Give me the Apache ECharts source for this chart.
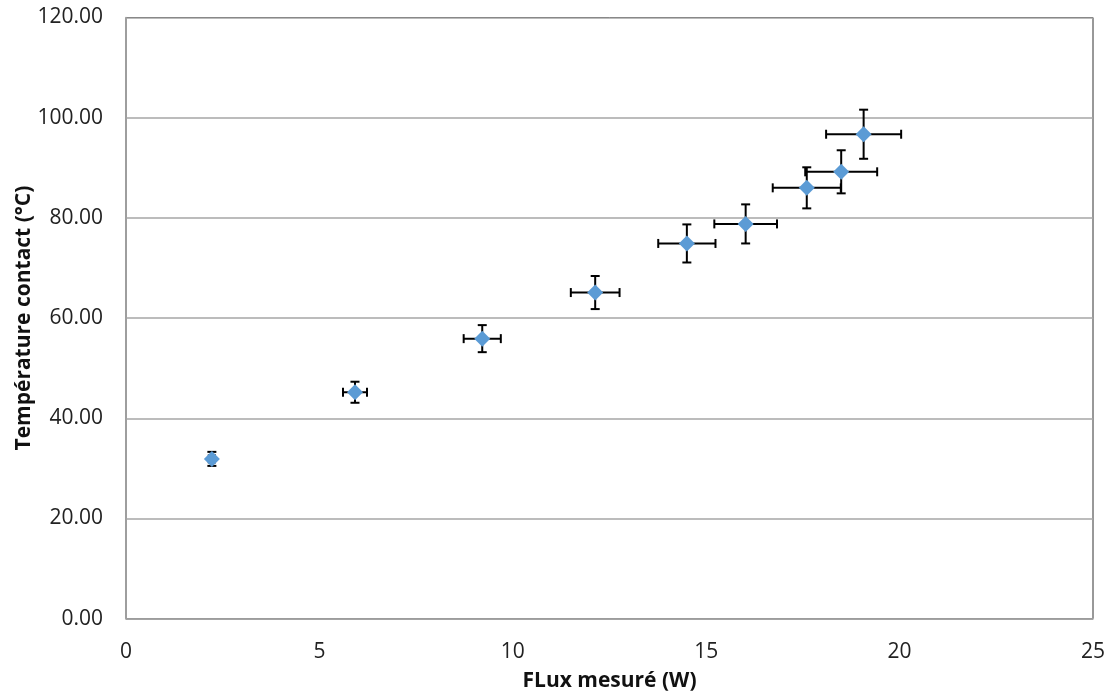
<!DOCTYPE html>
<html>
<head>
<meta charset="utf-8">
<script src="https://cdn.jsdelivr.net/npm/echarts@6/dist/echarts.min.js"></script>
<style>
html, body { margin: 0; padding: 0; background: #fff; }
#chart { width: 1110px; height: 697px; }
</style>
</head>
<body>
<div id="chart"></div>
<script>
// données mesurées
const fluxW = [2.22, 5.92, 9.21, 12.13, 14.50, 16.02, 17.60, 18.49, 19.07];
const tempC = [31.9, 45.2, 55.9, 65.1, 74.9, 78.8, 86.0, 89.2, 96.7];
const fluxErr = [0.08, 0.31, 0.48, 0.63, 0.74, 0.81, 0.88, 0.93, 0.97];
const tempErr = [1.4, 2.1, 2.7, 3.3, 3.8, 3.9, 4.1, 4.3, 4.9];

const myChart = echarts.init(document.getElementById('chart'));

const points = fluxW.map((x, i) => [x, tempC[i]]);
const errData = fluxW.map((x, i) => [x, tempC[i], fluxErr[i], tempErr[i]]);

// barres d'erreur X et Y
const renderErr = (params, api) => {
	const x = api.value(0);
	const y = api.value(1);
	const dx = api.value(2);
	const dy = api.value(3);
	const left = api.coord([x - dx, y]);
	const right = api.coord([x + dx, y]);
	const top = api.coord([x, y + dy]);
	const bottom = api.coord([x, y - dy]);
	const cap = 4.5;
	const style = { stroke: '#000', lineWidth: 2 };
	const line = (x1, y1, x2, y2) => ({ type: 'line', shape: { x1, y1, x2, y2 }, style });
	return {
		type: 'group',
		children: [
			line(left[0], left[1], right[0], right[1]),
			line(left[0], left[1] - cap, left[0], left[1] + cap),
			line(right[0], right[1] - cap, right[0], right[1] + cap),
			line(top[0], top[1], bottom[0], bottom[1]),
			line(top[0] - cap, top[1], top[0] + cap, top[1]),
			line(bottom[0] - cap, bottom[1], bottom[0] + cap, bottom[1]),
		],
	};
};

const option = {
	animation: false,
	grid: {
		left: 126,
		right: 17,
		top: 17.5,
		bottom: 78.3,
		outerBoundsMode: 'none',
		show: true,
		borderColor: '#333',
		borderWidth: 1,
	},
	xAxis: {
		type: 'value',
		min: 0,
		max: 25,
		interval: 5,
		name: 'FLux mesuré (W)',
		nameLocation: 'middle',
		nameGap: 52,
		nameMoveOverlap: false,
		nameTextStyle: { fontFamily: 'Open Sans', fontWeight: 'bold', fontSize: 21, color: '#111' },
		axisLine: { lineStyle: { color: '#a0a0a0', width: 1.5 } },
		axisTick: { show: false },
		splitLine: { show: false },
		axisLabel: { fontFamily: 'Open Sans', fontSize: 21, color: '#222', margin: 23 },
	},
	yAxis: {
		type: 'value',
		min: 0,
		max: 120,
		interval: 20,
		name: 'Température contact (°C)',
		nameLocation: 'middle',
		nameGap: 91,
		nameMoveOverlap: false,
		nameTextStyle: { fontFamily: 'Open Sans', fontWeight: 'bold', fontSize: 21, color: '#111' },
		axisLine: { show: true, lineStyle: { color: '#a0a0a0', width: 1.5 } },
		axisTick: { show: false },
		splitLine: { lineStyle: { color: '#a6a6a6', width: 1.5 } },
		axisLabel: {
			fontFamily: 'Open Sans',
			fontSize: 21,
			color: '#222',
			margin: 23,
			formatter: (v) => v.toFixed(2),
		},
	},
	series: [
		{
			type: 'custom',
			renderItem: renderErr,
			data: errData,
			z: 2,
		},
		{
			type: 'scatter',
			data: points,
			symbol: 'diamond',
			symbolSize: 16,
			itemStyle: { color: '#5B9BD5', opacity: 1 },
			z: 3,
		},
	],
};
myChart.setOption(option, true);
</script>
</body>
</html>
